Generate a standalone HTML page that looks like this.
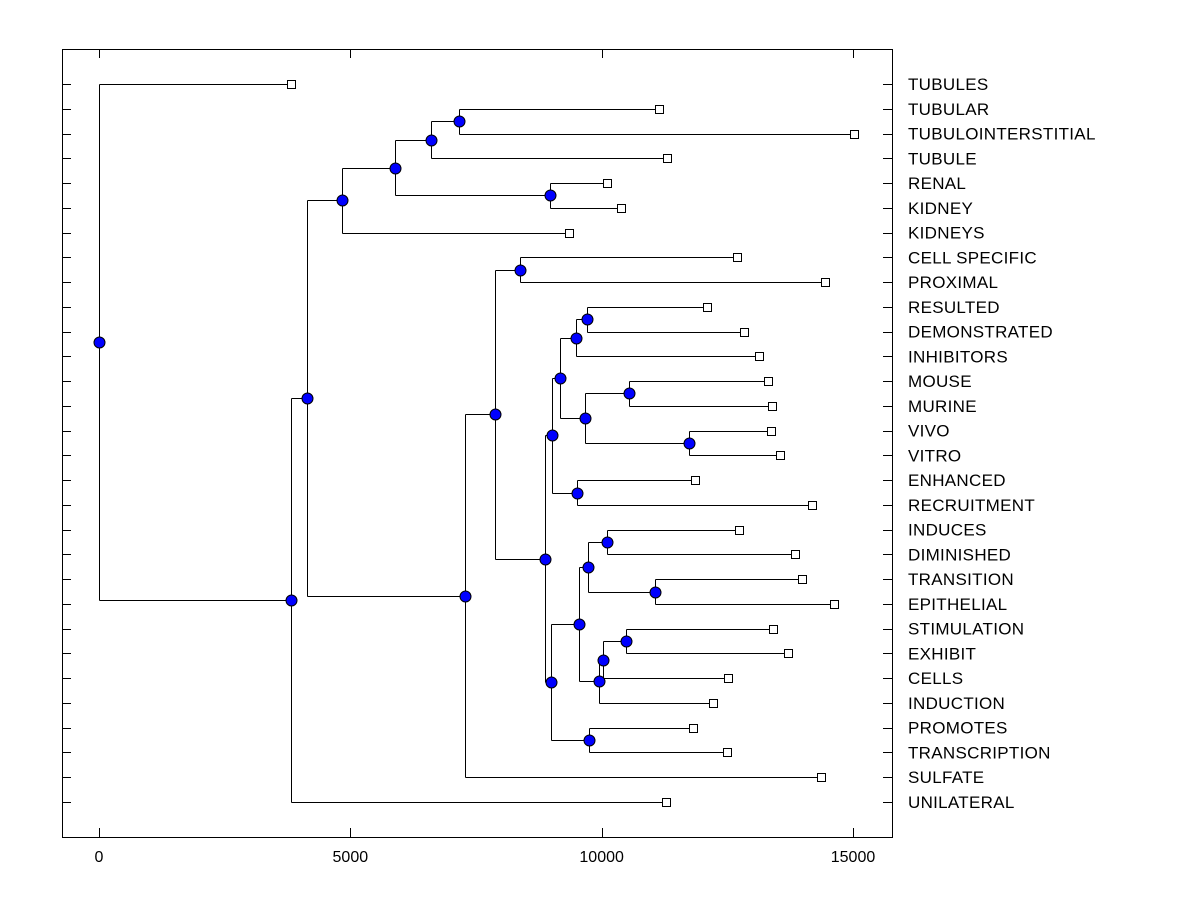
<!DOCTYPE html>
<html><head><meta charset="utf-8"><style>
html,body{margin:0;padding:0;background:#fff;}
svg{display:block;font-family:"Liberation Sans",Arial,sans-serif;}
</style></head><body>
<svg id="chart" width="1200" height="900"></svg>
<script>
// Leaf labels (top to bottom) and leaf heights (distance values)
const leafLabels = ["TUBULES","TUBULAR","TUBULOINTERSTITIAL","TUBULE","RENAL","KIDNEY","KIDNEYS","CELL SPECIFIC","PROXIMAL","RESULTED","DEMONSTRATED","INHIBITORS","MOUSE","MURINE","VIVO","VITRO","ENHANCED","RECRUITMENT","INDUCES","DIMINISHED","TRANSITION","EPITHELIAL","STIMULATION","EXHIBIT","CELLS","INDUCTION","PROMOTES","TRANSCRIPTION","SULFATE","UNILATERAL"];
const leafValues = [3820,11140,15020,11300,10105,10385,9350,12690,14440,12095,12830,13130,13310,13390,13370,13550,11855,14185,12730,13845,13985,14620,13410,13705,12510,12215,11815,12490,14360,11280];
// Internal merge nodes: name, value, children (leaf indices as numbers, node names as strings)
const nodeNames = ["root","A","B","C","E","F","H","G","D","I","J","K","L","N","P","R","Q","S","T","O","M","U","W","Y","Z","X","AA","BB","V"];
const nodeValues = [0,3820,4140,4835,5890,6605,7160,8970,7280,7880,8375,8870,9010,9170,9490,9710,9670,10545,11735,9510,8990,9550,9730,10105,11060,9945,10025,10485,9750];
const nodeChildren = [[0,"A"],["B",29],["C","D"],["E",6],["F","G"],["H",3],[1,2],[4,5],["I",28],["J","K"],[7,8],["L","M"],["N","O"],["P","Q"],["R",11],[9,10],["S","T"],[12,13],[14,15],[16,17],["U","V"],["W","X"],["Y","Z"],[18,19],[20,21],["AA",25],["BB",24],[22,23],[26,27]];
const xTicks = [0,5000,10000,15000];

const NS="http://www.w3.org/2000/svg";
const svg=document.getElementById('chart');
const L=62,R=892,T=49,B=837;
const xS=v=>99+v*(853-99)/15000;
const yS=i=>84+i*(802-84)/29;
function el(tag,attrs,parent){const e=document.createElementNS(NS,tag);for(const k in attrs)e.setAttribute(k,attrs[k]);(parent||svg).appendChild(e);return e;}

const frame=el('rect',{x:L+0.5,y:T+0.5,width:R-L,height:B-T,fill:'none',stroke:'#000','stroke-width':1});



xTicks.forEach(t=>{
  const x=Math.round(xS(t))+0.5;
  el('line',{x1:x,y1:T,x2:x,y2:T+9,stroke:'#000'});
  el('line',{x1:x,y1:B,x2:x,y2:B-9,stroke:'#000'});
  const tx=el('text',{x:xS(t),y:862,'text-anchor':'middle','font-size':16,fill:'#000'});
  tx.textContent=t;
  
  
});
leafLabels.forEach((lab,i)=>{
  const y=Math.round(yS(i))+0.5;
  el('line',{x1:L,y1:y,x2:L+9,y2:y,stroke:'#000'});
  el('line',{x1:R-9,y1:y,x2:R,y2:y,stroke:'#000'});
  const tx=el('text',{x:908,y:yS(i)+6,'font-size':17,fill:'#000','letter-spacing':'0.3'});
  tx.textContent=lab;
  
  
});

const nodeMap={};nodeNames.forEach((n,i)=>nodeMap[n]=i);
const memo={};
function pos(c){
  if(typeof c==='number') return {x:xS(leafValues[c]),y:yS(c)};
  if(memo[c])return memo[c];
  const i=nodeMap[c];
  const ps=nodeChildren[i].map(pos);
  const p={x:xS(nodeValues[i]),y:(ps[0].y+ps[1].y)/2};
  memo[c]=p;return p;
}
const lines=el('g',{},svg);


nodeNames.forEach((n,i)=>{
  const p=pos(n);
  const ps=nodeChildren[i].map(pos);
  const x=Math.round(p.x)+0.5;
  el('line',{x1:x,y1:Math.round(ps[0].y)+0.5,x2:x,y2:Math.round(ps[1].y)+0.5,stroke:'#000'},lines);
  ps.forEach(c=>{const y=Math.round(c.y)+0.5;el('line',{x1:x,y1:y,x2:Math.round(c.x)+0.5,y2:y,stroke:'#000'},lines);});
});
leafLabels.forEach((lab,i)=>{
  const p=pos(i);
  const s=el('rect',{x:Math.round(p.x)-3.5,y:Math.round(p.y)-3.5,width:8,height:8,fill:'#fff',stroke:'#000'});
  
  
});
nodeNames.forEach(n=>{
  const p=pos(n);
  const c=el('circle',{cx:Math.round(p.x)+0.5,cy:Math.round(p.y)+0.5,r:5.5,fill:'#0000ff',stroke:'#000','stroke-width':1});
  
  
});
</script>
</body></html>
